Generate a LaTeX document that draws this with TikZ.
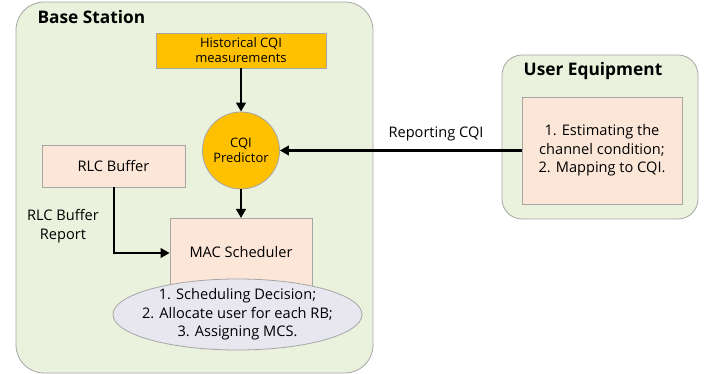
\documentclass[tikz,border=0pt]{standalone}
\usepackage{fontspec}
\setmainfont{Open Sans}
\usetikzlibrary{arrows.meta,shapes.geometric}
\definecolor{bggreen}{HTML}{EAF1DD}
\definecolor{bord}{HTML}{A6A6A6}
\definecolor{gold}{HTML}{FFC000}
\definecolor{peach}{HTML}{FCE6D8}
\definecolor{lav}{HTML}{E8E7F0}
\tikzset{
  panel/.style={draw=bord, fill=bggreen, line width=0.8pt},
  peachbox/.style={draw=bord, fill=peach, line width=0.8pt, inner sep=0pt},
  arr/.style={line width=2.8pt, -{Triangle[length=9pt,width=9.5pt]}},
  lbl/.style={font=\fontsize{14.6}{18.5}\selectfont, align=center},
  small/.style={font=\fontsize{13}{15}\selectfont, align=center},
  ttl/.style={font=\bfseries\fontsize{17.3}{20}\selectfont},
}
\begin{document}
\begin{tikzpicture}[x=1pt,y=-1pt]
\useasboundingbox (0,0) rectangle (718,374);
% Base station panel
\draw[panel, rounded corners=28pt] (16,2) rectangle (373,373);
\node[anchor=west, ttl] (bstitle) at (34,17) {Base Station};
% User equipment panel
\draw[panel, rounded corners=20pt] (502,55) rectangle (698,219);
\node[ttl] (uetitle) at (593,71) {User Equipment};
\node[peachbox, minimum width=160pt, minimum height=107pt, lbl] (ue) at (602,150.5) {1. Estimating the\\channel condition;\\2. Mapping to CQI.};
% Historical CQI
\node[draw=bord, fill=gold, line width=0.8pt, minimum width=170pt, minimum height=35pt, inner sep=0pt, small] (hist) at (241,50.5) {Historical CQI\\measurements};
% CQI predictor
\node[circle, draw=bord, fill=gold, line width=0.8pt, minimum size=77pt, inner sep=0pt, small] (pred) at (241,150.5) {CQI\\Predictor};
% RLC buffer
\node[peachbox, minimum width=143pt, minimum height=42pt, lbl] (rlc) at (113.5,166) {RLC Buffer};
% MAC scheduler
\node[peachbox, minimum width=142pt, minimum height=80pt, anchor=north] (mac) at (241,218) {};
\node[lbl] (mactext) at (241,252) {MAC Scheduler};
% ellipse
\draw[draw=bord, fill=lav, line width=0.8pt] (237.5,314.5) ellipse [x radius=124.5pt, y radius=35.5pt];
\node[lbl, inner sep=0pt] (dec) at (237.5,314.5) {1. Scheduling Decision;\\2. Allocate user for each RB;\\3. Assigning MCS.};
% labels
\node[lbl] (rlcrep) at (63,226) {RLC Buffer\\Report};
\node[lbl] (repcqi) at (436,134) {Reporting CQI};
% arrows
\draw[arr] (hist.south) -- (pred.north);
\draw[arr] (pred.south) -- (mac.north);
\draw[arr] (ue.west) -- (pred.east);
\coordinate (bend) at (114,253);
\draw[arr] (rlc.south -| bend) -- (bend) -- (bend -| mac.west);
\end{tikzpicture}
\end{document}
